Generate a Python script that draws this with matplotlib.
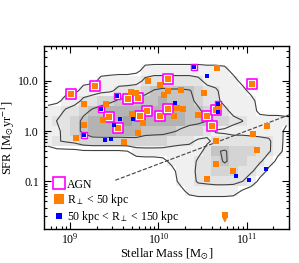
import numpy as np
import matplotlib
matplotlib.use("Agg")
import matplotlib.pyplot as plt
from matplotlib.colors import ListedColormap, BoundaryNorm
from matplotlib.lines import Line2D

plt.rcParams['font.family'] = 'serif'
plt.rcParams['font.serif'] = ['Liberation Serif', 'DejaVu Serif']
plt.rcParams['mathtext.fontset'] = 'stix'

# background galaxy density (gray levels)
# columns: log M = 8.7 .. 11.5 in 0.1 dex, rows: log SFR = 1.7 .. -1.9 in 0.2 dex (top to bottom)
density_rows = [
    "0000000000000000000000000000",
    "0000000000000000000000000000",
    "0000000000011111111110000000",
    "0000001111122222221111000000",
    "0000111122234444432211100000",
    "0011223344444544432211110000",
    "1122344555565555443221110000",
    "1223455556555555444332211111",
    "1123455555544443332111111110",
    "1222333333333322211222222210",
    "0000000000111111112443332210",
    "0000000000000011122343322100",
    "0000000000000001122333221000",
    "0000000000000001122222210000",
    "0000000000000000111111000000",
    "0000000000000000000000000000",
    "0000000000000000000000000000",
    "0000000000000000000000000000",
]
logm_edges = np.linspace(8.7, 11.5, 29)
logsfr_edges = np.linspace(1.7, -1.9, 19)

# R_perp < 50 kpc (orange)
near_mass = [4.62e10, 7.59e9, 1.04e10, 1.27e10, 1.80e10, 3.30e10, 4.88e9, 5.6e9, 1.16e10,
             1.45e9, 2.55e9, 1.61e10, 1.92e10, 1.50e10, 2.78e10, 5.00e9, 6.65e9, 2.36e9,
             1.44e9, 5.85e9, 1.18e9, 4.10e9, 4.44e10, 4.88e10, 1.69e11, 1.18e11, 1.31e11,
             4.47e10, 7.02e10, 3.51e10]
near_sfr = [17.8, 9.70, 8.21, 6.15, 6.53, 5.61, 5.87, 5.6, 5.2,
            3.51, 3.40, 2.92, 2.79, 2.03, 2.12, 2.19, 1.45, 1.69,
            1.35, 0.92, 0.72, 0.61, 0.62, 3.05, 1.25, 0.88, 0.42,
            0.224, 0.160, 0.113]
# R_perp < 50 kpc, AGN
near_agn_mass = [1.01e9, 1.93e9, 1.27e10, 1.16e11, 4.51e9, 5.85e9, 7.38e9, 2.73e9,
                 3.51e9, 6.21e9, 1.03e10, 1.30e10, 3.57e10, 4.44e10, 4.03e10]
near_agn_sfr = [5.45, 7.73, 11.1, 8.46, 4.27, 4.47, 2.55, 1.94,
                1.17, 2.03, 2.03, 2.75, 2.03, 2.67, 1.27]
# 50 kpc < R_perp < 150 kpc (blue)
far_mass = [3.57e10, 1.54e10, 5.14e9, 3.70e9, 3.11e9, 2.50e9, 2.92e9, 4.71e10,
            7.64e10, 1.05e11, 1.67e11]
far_sfr = [12.2, 3.56, 1.77, 1.74, 1.35, 0.65, 0.71, 2.36,
           0.126, 0.106, 0.175]
far_agn_mass = [2.52e10, 3.39e9, 2.24e9, 1.44e9, 4.67e10]
far_agn_sfr = [18.9, 5.05, 2.75, 0.83, 3.51]
# upper limit
limit_mass = [5.65e10]
limit_sfr = [0.0212]
# dashed dividing line
line_mass = [3.25e9, 3.0e11]
line_sfr = [0.105, 2.09]

orange = '#ff8000'
magenta = '#ff00ff'
blue = '#0000ff'

fig = plt.figure(figsize=(2.99, 2.63), dpi=100)
ax = fig.add_axes([0.147, 0.129, 0.819, 0.696])

dens = np.array([[int(c) for c in r] for r in density_rows], dtype=float)
cmap = ListedColormap(['#ffffff', '#f0f0f0', '#e3e3e3', '#d4d4d4', '#c4c4c4', '#b3b3b3', '#a3a3a3'])
norm = BoundaryNorm(np.arange(-0.5, 7.5, 1), cmap.N)
ax.pcolormesh(10**logm_edges, 10**logsfr_edges, dens, cmap=cmap, norm=norm, zorder=0)

# contours from a lightly smoothed copy of the grid
pad = np.pad(dens, 1, mode='edge')
smooth = (4 * pad[1:-1, 1:-1] + pad[:-2, 1:-1] + pad[2:, 1:-1] + pad[1:-1, :-2] + pad[1:-1, 2:]) / 8.0
mc = 10**(0.5 * (logm_edges[:-1] + logm_edges[1:]))
sc = 10**(0.5 * (logsfr_edges[:-1] + logsfr_edges[1:]))
ax.contour(mc, sc, smooth, levels=[0.5, 1.6, 3.5], colors='#404040', linewidths=0.8, zorder=1)

ax.plot(line_mass, line_sfr, ls='--', color='#404040', lw=0.8, zorder=2)

ax.scatter(near_agn_mass, near_agn_sfr, marker='s', s=44, facecolor='white',
           edgecolor=magenta, linewidth=1.2, zorder=3)
ax.scatter(far_agn_mass, far_agn_sfr, marker='s', s=16, facecolor='white',
           edgecolor=magenta, linewidth=1.0, zorder=3)
ax.scatter(near_mass + near_agn_mass + limit_mass, near_sfr + near_agn_sfr + limit_sfr,
           marker='s', s=24, color=orange, linewidth=0, zorder=4)
ax.scatter(far_mass + far_agn_mass, far_sfr + far_agn_sfr, marker='s', s=7,
           color=blue, linewidth=0, zorder=5)
for m, s in zip(limit_mass, limit_sfr):
    ax.annotate('', xy=(m, s * 0.62), xytext=(m, s),
                arrowprops=dict(arrowstyle='-|>', color=orange, lw=1, mutation_scale=5),
                zorder=4)

ax.set_xscale('log')
ax.set_yscale('log')
ax.set_xlim(5.05e8, 3.0e11)
ax.set_ylim(0.0112, 49.3)
ax.set_yticks([0.1, 1, 10])
ax.set_yticklabels(['0.1', '1.0', '10.0'])
ax.tick_params(which='both', direction='in', top=True, right=True, labelsize=8.5, width=0.8)
ax.tick_params(which='major', length=5)
ax.tick_params(which='minor', length=2.5)
ax.tick_params(axis='x', pad=2)
for sp in ax.spines.values():
    sp.set_linewidth(1.0)

ax.set_xlabel(r'Stellar Mass [M$_{\odot}$]', fontsize=9, labelpad=0)
ax.set_ylabel(r'SFR [M$_{\odot}$yr$^{-1}$]', fontsize=9, labelpad=1)

handles = [
    Line2D([], [], ls='', marker='s', markersize=8, markerfacecolor='white',
           markeredgecolor=magenta, markeredgewidth=1.2),
    Line2D([], [], ls='', marker='s', markersize=7, color=orange, markeredgewidth=0),
    Line2D([], [], ls='', marker='s', markersize=4, color=blue, markeredgewidth=0),
]
labels = ['AGN', r'R$_{\perp}$ < 50 kpc', r'50 kpc < R$_{\perp}$ < 150 kpc']
ax.legend(handles, labels, loc='lower left', frameon=False, fontsize=8.5,
          handlelength=0.6, handletextpad=0.3, labelspacing=0.12,
          borderaxespad=0.3, bbox_to_anchor=(0.015, -0.025))

fig.savefig('out.png', dpi=100)
